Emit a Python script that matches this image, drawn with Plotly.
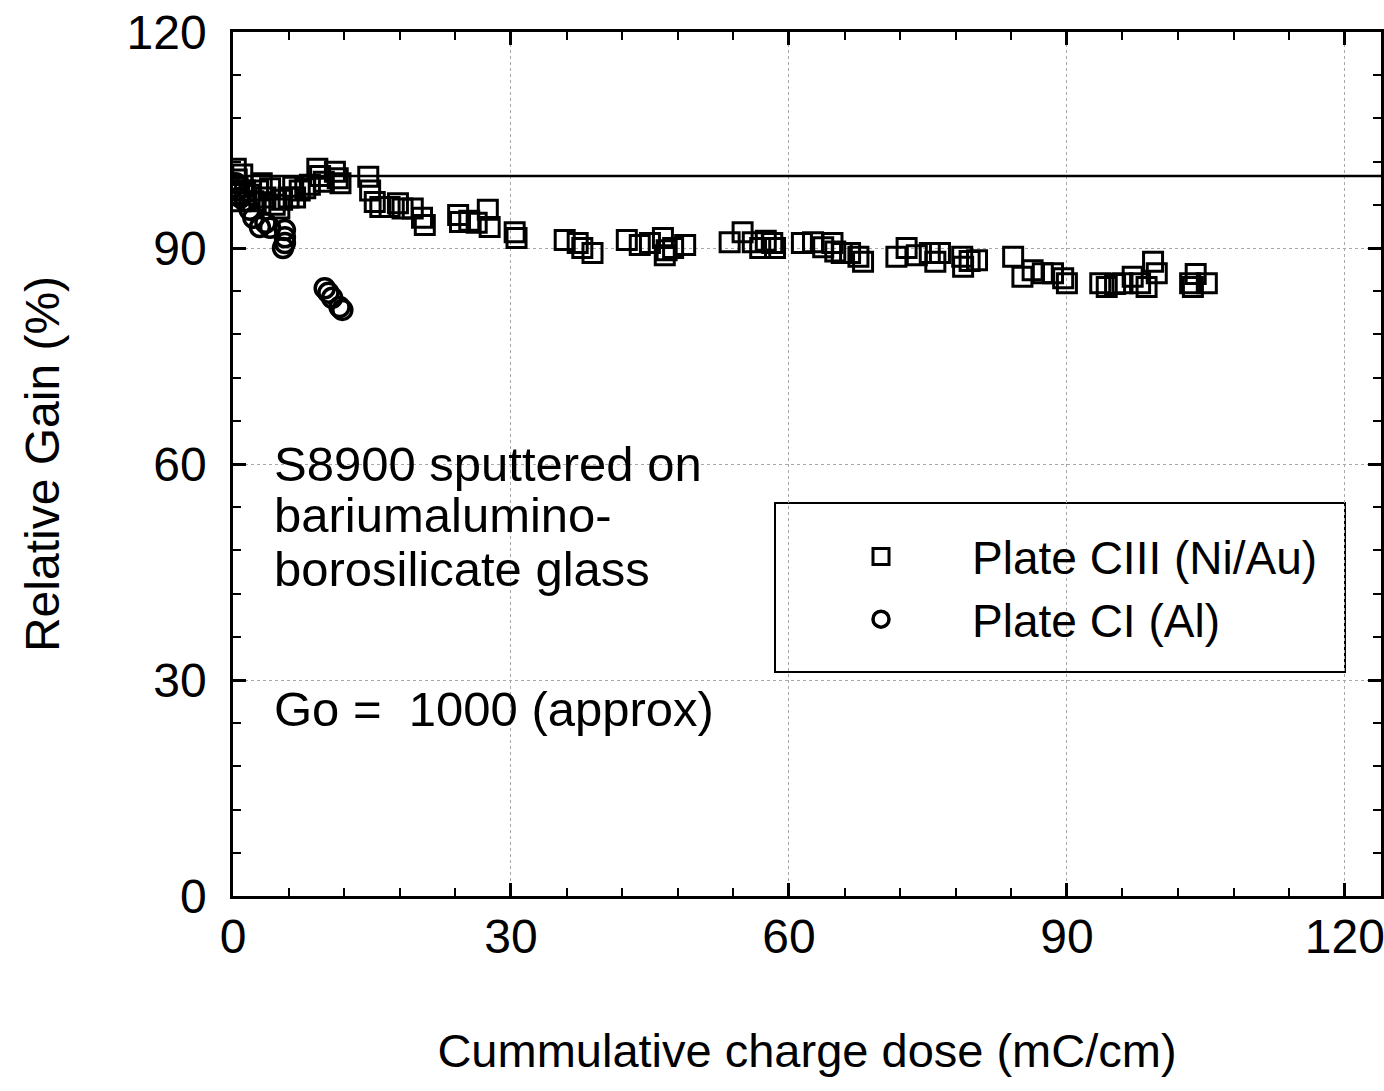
import plotly.graph_objects as go

# Plate CIII (Ni/Au) - open squares
ciii_dose = [0.3, 0.4, 0.5, 0.6, 0.8, 1.0, 1.3, 1.8, 2.2, 2.7, 3.1, 3.5, 4.0, 4.5, 5.0, 5.3,
             6.0, 6.5, 6.7, 7.2, 7.8, 8.3, 9.1, 9.4, 9.8, 11.0, 11.3, 11.6,
             14.6, 14.8, 15.3, 15.9, 16.9, 17.8, 18.3, 19.4, 20.4, 20.7,
             24.3, 24.5, 25.5, 26.3, 27.5, 27.7, 30.4, 30.6, 35.8, 37.2, 37.7, 38.8,
             42.5, 43.9, 45.0, 46.4, 46.8, 46.6, 47.5, 48.8,
             53.6, 55.0, 56.1, 56.9, 57.5, 58.2, 58.5,
             61.4, 62.6, 63.7, 64.7, 65.0, 65.7, 66.6, 67.5, 68.0,
             71.6, 72.7, 73.8, 75.2, 75.8, 76.3, 78.7, 78.8, 79.5, 80.3,
             84.2, 85.2, 86.3, 87.4, 88.5, 89.6, 90.0,
             93.6, 94.3, 95.2, 96.0, 97.1, 97.9, 98.6, 99.3, 99.7,
             103.3, 103.6, 103.9, 105.1]
ciii_gain = [101.0, 99.5, 98.5, 97.5, 96.5, 100.2, 98.0, 97.4, 96.5, 98.0, 99.0, 97.0, 98.3, 96.0, 95.5, 96.7,
             97.0, 98.5, 97.0, 98.0, 98.3, 98.8, 101.0, 100.0, 99.2, 100.6, 99.7, 99.0,
             99.9, 98.0, 96.4, 95.7, 95.7, 96.2, 95.5, 95.5, 94.2, 93.2,
             94.6, 93.6, 93.8, 93.5, 95.3, 92.9, 92.2, 91.4, 91.1, 90.7, 90.0, 89.3,
             91.1, 90.4, 90.7, 91.4, 89.7, 89.0, 90.0, 90.4,
             90.8, 92.2, 90.8, 90.0, 91.0, 90.7, 90.0,
             90.7, 90.8, 90.1, 90.7, 89.5, 89.3, 89.3, 88.8, 88.1,
             88.8, 90.0, 89.0, 89.3, 88.1, 89.3, 88.8, 87.4, 88.2, 88.3,
             88.8, 86.0, 86.9, 86.5, 86.5, 85.8, 85.1,
             85.1, 84.6, 85.0, 85.1, 86.0, 85.1, 84.6, 88.1, 86.5,
             85.1, 84.6, 86.4, 85.1]

# Plate CI (Al) - open circles
ci_dose = [0.3, 0.5, 0.8, 1.3, 1.8, 2.2, 2.9, 3.5, 4.0, 5.6, 5.6, 5.6, 5.4,
           9.9, 10.3, 10.7, 11.5, 11.8]
ci_gain = [99.0, 98.0, 97.0, 96.5, 95.3, 94.2, 92.9, 93.5, 92.8, 92.5, 91.5, 90.7, 90.0,
           84.4, 83.8, 83.1, 81.8, 81.4]

series_names = ["Plate CIII (Ni/Au)", "Plate CI (Al)"]
reference_gain = 100
x_ticks = [0, 30, 60, 90, 120]
y_ticks = [0, 30, 60, 90, 120]

note_lines = ["S8900 sputtered on", "bariumalumino-", "borosilicate glass"]
note_go = "Go =  1000 (approx)"

FONT = "Liberation Sans, Arial, sans-serif"

fig = go.Figure()
fig.add_trace(go.Scatter(
    x=ciii_dose, y=ciii_gain, mode="markers", name=series_names[0],
    marker=dict(symbol="square-open", size=19, color="black", line=dict(width=3, color="black")),
))
fig.add_trace(go.Scatter(
    x=ci_dose, y=ci_gain, mode="markers", name=series_names[1],
    marker=dict(symbol="circle-open", size=19, color="black", line=dict(width=3.5, color="black")),
))

fig.add_hline(y=reference_gain, line=dict(color="black", width=2.5))

axis_common = dict(
    showline=True, linecolor="black", linewidth=2.5, mirror="allticks",
    ticks="inside", ticklen=13, tickwidth=2.5, tickcolor="black",
    showgrid=True, gridcolor="#a8a8a8", griddash="dot", gridwidth=1,
    zeroline=False, automargin=False, ticklabeloverflow="allow",
    tickfont=dict(family=FONT, size=48, color="black"),
    minor=dict(dtick=6, ticks="inside", ticklen=8, tickwidth=2, tickcolor="black", showgrid=False),
)

fig.update_xaxes(
    range=[0, 123.9], tickvals=x_ticks, ticklabelstandoff=-3,
    title=dict(text="Cummulative charge dose (mC/cm)", font=dict(family=FONT, size=47, color="black"), standoff=72),
    **axis_common,
)
fig.update_yaxes(
    range=[0, 120], tickvals=y_ticks, ticklabelstandoff=14,
    title=dict(text="Relative Gain (%)", font=dict(family=FONT, size=48, color="black"), standoff=52),
    **axis_common,
)

ann_font = dict(family=FONT, size=49, color="black")
line_y = [482, 533, 587]
ann_x = (272 - 233) / 1148
for txt, py in zip(note_lines, line_y):
    fig.add_annotation(xref="paper", yref="paper", x=ann_x, y=(896 - py) / 864,
                       xanchor="left", yanchor="bottom", text=txt, showarrow=False, font=ann_font,
                       yshift=-11)
fig.add_annotation(xref="paper", yref="paper", x=ann_x, y=(896 - 727) / 864,
                   xanchor="left", yanchor="bottom", text=note_go, showarrow=False, font=ann_font,
                   yshift=-11)

# legend box
fig.add_shape(type="rect", xref="paper", yref="paper",
              x0=(775 - 233) / 1148, x1=(1345 - 233) / 1148,
              y0=(896 - 672) / 864, y1=(896 - 503) / 864,
              line=dict(color="black", width=2), fillcolor="white", layer="below")

fig.update_layout(
    width=1384, height=1091,
    margin=dict(l=233, r=3, t=32, b=195, autoexpand=False),
    paper_bgcolor="white", plot_bgcolor="white",
    font=dict(family=FONT, color="black"),
    showlegend=True,
    legend=dict(
        x=(790 - 233) / 1148, y=(896 - 520) / 864, xanchor="left", yanchor="top",
        bgcolor="rgba(0,0,0,0)", borderwidth=0,
        font=dict(family=FONT, size=46, color="black"),
        itemwidth=172, itemsizing="trace",
    ),
)

fig.write_html("out.html", config={"displayModeBar": False},
               post_script="document.body.style.margin='0px';")
